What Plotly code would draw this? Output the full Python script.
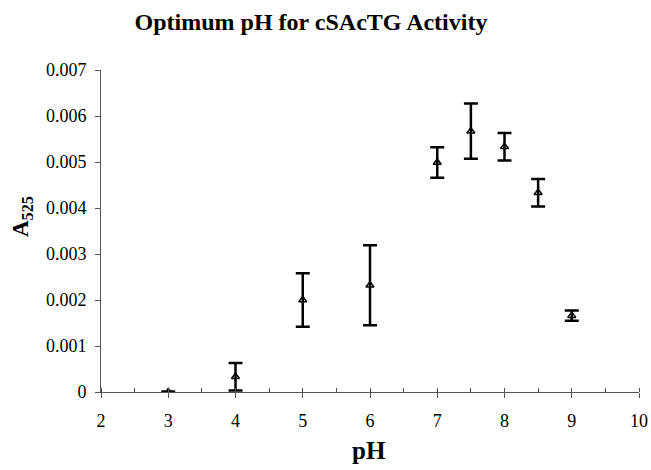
import plotly.graph_objects as go

ph = [3, 4, 5, 6, 7, 7.5, 8, 8.5, 9]
a525 = [0.0, 0.00033, 0.0020, 0.00232, 0.00499, 0.00567, 0.00533, 0.00433, 0.00166]
err = [0.00001, 0.00030, 0.00058, 0.00087, 0.00033, 0.00060, 0.00030, 0.00030, 0.00011]

x_ticks = [2, 3, 4, 5, 6, 7, 8, 9, 10]
y_ticks = [0, 0.001, 0.002, 0.003, 0.004, 0.005, 0.006, 0.007]
y_labels = ["0", "0.001", "0.002", "0.003", "0.004", "0.005", "0.006", "0.007"]

FONT = "Liberation Serif, Times New Roman, serif"
AX = "#555"

fig = go.Figure()
fig.add_trace(go.Scatter(
    x=ph, y=a525, mode="markers",
    marker=dict(symbol="triangle-up-open", size=7, color="black", line=dict(width=1.5, color="black")),
    error_y=dict(type="data", array=err, visible=True, color="black", thickness=2.5, width=7),
    showlegend=False,
))

fig.update_layout(
    width=651, height=470,
    margin=dict(l=101, r=12, t=70, b=78, autoexpand=False),
    paper_bgcolor="white", plot_bgcolor="white",
    font=dict(family=FONT, color="black", size=18),
    title=dict(text="<b>Optimum pH for cSAcTG Activity</b>", x=311 / 651, xanchor="center",
               y=1 - 22 / 470, yanchor="middle", font=dict(size=24, family=FONT)),
    annotations=[
        dict(text="<b>A<sub>525</sub></b>", xref="paper", yref="paper",
             x=(22 - 101) / 538, y=(392 - 217) / 322, xanchor="center", yanchor="middle",
             textangle=-90, showarrow=False, font=dict(size=23, family=FONT, color="black")),
        dict(text="<b>pH</b>", xref="paper", yref="paper",
             x=(369 - 101) / 538, y=(392 - 450) / 322, xanchor="center", yanchor="middle",
             showarrow=False, font=dict(size=25, family=FONT, color="black")),
    ],
    xaxis2=dict(overlaying="x", anchor="y", side="bottom", range=[2, 10], tickvals=x_ticks,
                ticks="inside", ticklen=4, tickcolor=AX, showticklabels=False,
                showgrid=False, zeroline=False, showline=False),
)
fig.update_layout(xaxis=dict(
    range=[2, 10], tickvals=x_ticks, ticktext=[str(v) for v in x_ticks],
    showline=True, linecolor=AX, linewidth=1, ticks="outside", ticklen=5, tickcolor=AX,
    minor=dict(dtick=0.5, ticks="inside", ticklen=4, tickcolor=AX),
    showgrid=False, zeroline=False, mirror=False, ticklabelstandoff=7,
))
fig.update_yaxes(
    range=[0, 0.007], tickvals=y_ticks, ticktext=y_labels,
    showline=True, linecolor=AX, linewidth=1, ticks="outside", ticklen=5, tickcolor=AX,
    showgrid=False, zeroline=False, ticklabelstandoff=5,
)

fig.write_html("out.html", config={"displayModeBar": False},
               post_script="document.body.style.margin='0';")
